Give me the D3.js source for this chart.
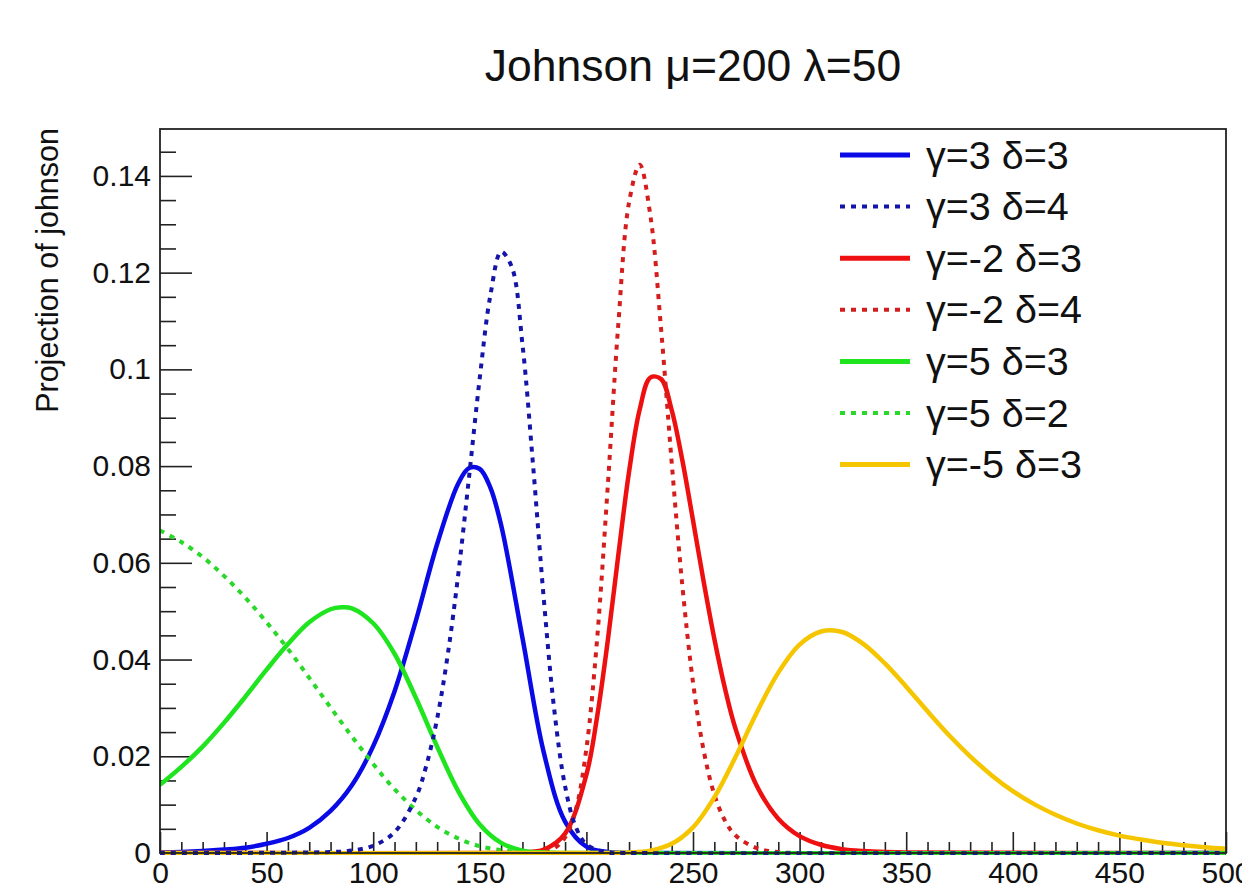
<!DOCTYPE html>
<html>
<head>
<meta charset="utf-8">
<script src="https://cdn.jsdelivr.net/npm/d3@7"></script>
<style>
  body { margin: 0; background: #fff; }
  svg { display: block; font-family: "Liberation Sans", Arial, Helvetica, sans-serif; }
  .axis path { display: none; }
  .axis line { stroke: #222; stroke-width: 1.6; }
  .axis text { fill: #111; font-size: 30px; font-family: "Liberation Sans", Arial, sans-serif; }
</style>
</head>
<body>
<div id="chart"></div>
<script>
// values (projection of each pdf, per bin)
const xTicks = [0, 50, 100, 150, 200, 250, 300, 350, 400, 450, 500];
const xTickLabels = ["0", "50", "100", "150", "200", "250", "300", "350", "400", "450", "500"];
const yTicks = [0, 0.02, 0.04, 0.06, 0.08, 0.1, 0.12, 0.14];
const yTickLabels = ["0", "0.02", "0.04", "0.06", "0.08", "0.1", "0.12", "0.14"];

const blueSolidX = [0, 10, 20, 30, 40, 50, 60, 70, 80, 90, 100, 110, 120, 130, 140, 145, 150, 155, 160, 170, 180, 190, 200, 210, 220, 500];
const blueSolidY = [0.0001, 0.0002, 0.0004, 0.0007, 0.0011, 0.0019, 0.0031, 0.0052, 0.0087, 0.0140, 0.0221, 0.0334, 0.0480, 0.0639, 0.0765, 0.0796, 0.0794, 0.0755, 0.0678, 0.0445, 0.0208, 0.0065, 0.0013, 0.0002, 0, 0];

const blueDotX = [0, 80, 90, 100, 110, 120, 125, 130, 135, 140, 145, 150, 155, 160, 165, 170, 175, 180, 185, 190, 195, 200, 210, 220, 500];
const blueDotY = [0, 0.0002, 0.0005, 0.0015, 0.0043, 0.0115, 0.0182, 0.0278, 0.0411, 0.0580, 0.0779, 0.0983, 0.1154, 0.1243, 0.1212, 0.1052, 0.0801, 0.0526, 0.0293, 0.0138, 0.0054, 0.0018, 0.0001, 0, 0];

const redSolidX = [0, 160, 170, 180, 190, 200, 205, 210, 215, 220, 225, 230, 235, 240, 245, 250, 255, 260, 265, 270, 280, 290, 300, 310, 320, 330, 340, 350, 500];
const redSolidY = [0, 0, 0.0001, 0.0007, 0.0040, 0.0162, 0.0281, 0.0438, 0.0617, 0.0788, 0.0917, 0.0983, 0.0980, 0.0916, 0.0812, 0.0688, 0.0561, 0.0443, 0.0340, 0.0256, 0.0138, 0.0071, 0.0035, 0.0017, 0.0008, 0.0004, 0.0002, 0.0001, 0];

const redDotX = [0, 170, 180, 185, 190, 195, 200, 205, 210, 215, 220, 225, 230, 235, 240, 245, 250, 255, 260, 265, 270, 280, 290, 300, 500];
const redDotY = [0, 0, 0.0003, 0.0010, 0.0032, 0.0089, 0.0216, 0.0441, 0.0757, 0.1095, 0.1345, 0.1423, 0.1318, 0.1085, 0.0808, 0.0553, 0.0353, 0.0212, 0.0121, 0.0067, 0.0036, 0.0010, 0.0002, 0, 0];

const greenSolidX = [0, 10, 20, 30, 40, 50, 60, 70, 80, 85, 90, 100, 110, 120, 130, 140, 150, 160, 170, 180, 190, 500];
const greenSolidY = [0.0141, 0.0178, 0.0220, 0.0269, 0.0323, 0.0379, 0.0432, 0.0477, 0.0504, 0.0508, 0.0506, 0.0475, 0.0412, 0.0321, 0.0220, 0.0127, 0.0059, 0.0021, 0.0005, 0.0001, 0, 0];

const greenDotX = [0, 10, 20, 30, 40, 50, 60, 70, 80, 90, 100, 110, 120, 130, 140, 150, 160, 170, 180, 190, 500];
const greenDotY = [0.0667, 0.0643, 0.0612, 0.0573, 0.0528, 0.0477, 0.0422, 0.0362, 0.0301, 0.0241, 0.0184, 0.0132, 0.0089, 0.0054, 0.0030, 0.0014, 0.0006, 0.0002, 0.0001, 0, 0];

const yellowX = [0, 210, 220, 230, 240, 250, 260, 270, 280, 290, 300, 310, 320, 330, 340, 350, 360, 370, 380, 390, 400, 410, 420, 430, 440, 450, 460, 470, 480, 490, 500];
const yellowY = [0, 0, 0.0001, 0.0005, 0.0019, 0.0053, 0.0115, 0.0199, 0.0291, 0.0373, 0.0431, 0.0458, 0.0457, 0.0432, 0.0392, 0.0344, 0.0293, 0.0244, 0.0200, 0.0161, 0.0128, 0.0101, 0.0079, 0.0061, 0.0047, 0.0036, 0.0028, 0.0021, 0.0016, 0.0012, 0.0009];

const seriesLabels = ["γ=3 δ=3", "γ=3 δ=4", "γ=-2 δ=3", "γ=-2 δ=4", "γ=5 δ=3", "γ=5 δ=2", "γ=-5 δ=3"];

// drawing setup (z = paint order; blue dots end up on top along the axis like in ROOT)
const series = [
  { label: seriesLabels[0], xs: blueSolidX, ys: blueSolidY, color: "#0a0ae6", dash: null, z: 0 },
  { label: seriesLabels[1], xs: blueDotX, ys: blueDotY, color: "#1414a8", dash: "5,6", z: 7 },
  { label: seriesLabels[2], xs: redSolidX, ys: redSolidY, color: "#ee1010", dash: null, z: 2 },
  { label: seriesLabels[3], xs: redDotX, ys: redDotY, color: "#d41e1e", dash: "5,6", z: 3 },
  { label: seriesLabels[4], xs: greenSolidX, ys: greenSolidY, color: "#1fe51f", dash: null, z: 4 },
  { label: seriesLabels[5], xs: greenDotX, ys: greenDotY, color: "#2ad82a", dash: "5,6", z: 5 },
  { label: seriesLabels[6], xs: yellowX, ys: yellowY, color: "#f5c600", dash: null, z: 6 }
];

const W = 1242, H = 891;
const frame = { left: 160, top: 129, right: 1226, bottom: 853 };

const svg = d3.select("#chart").append("svg")
  .attr("width", W)
  .attr("height", H);

svg.append("rect").attr("width", W).attr("height", H).attr("fill", "#fff");

const x = d3.scaleLinear().domain([0, 500]).range([frame.left, frame.right]);
const y = d3.scaleLinear().domain([0, 0.1497]).range([frame.bottom, frame.top]);

// minor ticks first
const xMinor = d3.range(0, 501, 10).filter(v => v % 50 !== 0);
svg.append("g")
  .attr("class", "axis")
  .attr("transform", `translate(0,${frame.bottom})`)
  .call(d3.axisBottom(x).tickValues(xMinor).tickSize(-11).tickFormat(""));

const yMinor = d3.range(0, 30).map(i => i * 0.005).filter((v, i) => i % 4 !== 0);
svg.append("g")
  .attr("class", "axis")
  .attr("transform", `translate(${frame.left},0)`)
  .call(d3.axisLeft(y).tickValues(yMinor).tickSize(-16).tickFormat(""));

// major ticks + labels
svg.append("g")
  .attr("class", "axis")
  .attr("transform", `translate(0,${frame.bottom})`)
  .call(d3.axisBottom(x).tickValues(xTicks).tickSize(-21).tickPadding(9)
    .tickFormat((d, i) => xTickLabels[i]));

svg.append("g")
  .attr("class", "axis")
  .attr("transform", `translate(${frame.left},0)`)
  .call(d3.axisLeft(y).tickValues(yTicks).tickSize(-32).tickPadding(9)
    .tickFormat((d, i) => yTickLabels[i]));

// curves
svg.append("clipPath").attr("id", "plotclip")
  .append("rect")
  .attr("x", frame.left).attr("y", frame.top - 2)
  .attr("width", frame.right - frame.left).attr("height", frame.bottom - frame.top + 4);

const line = d3.line()
  .x(d => x(d[0]))
  .y(d => y(Math.max(0, d[1])))
  .curve(d3.curveCatmullRom.alpha(0.5));

const plot = svg.append("g").attr("clip-path", "url(#plotclip)");
series.slice().sort((a, b) => a.z - b.z).forEach(s => {
  const pts = s.xs.map((xv, i) => [xv, s.ys[i]]);
  plot.append("path")
    .datum(pts)
    .attr("d", line)
    .attr("fill", "none")
    .attr("stroke", s.color)
    .attr("stroke-width", s.dash ? 4 : 4.5)
    .attr("stroke-dasharray", s.dash)
    .attr("stroke-linejoin", "round");
});

// frame
svg.append("rect")
  .attr("x", frame.left).attr("y", frame.top)
  .attr("width", frame.right - frame.left)
  .attr("height", frame.bottom - frame.top)
  .attr("fill", "none")
  .attr("stroke", "#222")
  .attr("stroke-width", 1.8);

// title
svg.append("text")
  .attr("x", 693)
  .attr("y", 81)
  .attr("text-anchor", "middle")
  .style("font-size", "44.5px")
  .style("fill", "#111")
  .text("Johnson μ=200 λ=50");

// y axis title
svg.append("text")
  .attr("transform", "translate(58,128) rotate(-90)")
  .attr("text-anchor", "end")
  .style("font-size", "30.5px")
  .style("fill", "#111")
  .text("Projection of johnson");

// legend
const legend = svg.append("g").attr("transform", "translate(840,155)");
series.forEach((s, i) => {
  const row = legend.append("g").attr("transform", `translate(0,${i * 51.6})`);
  row.append("line")
    .attr("x1", 0).attr("x2", 70)
    .attr("y1", 0).attr("y2", 0)
    .attr("stroke", s.color)
    .attr("stroke-width", s.dash ? 4 : 5)
    .attr("stroke-dasharray", s.dash);
  row.append("text")
    .attr("x", 86)
    .attr("y", 13.5)
    .style("font-size", "39.5px")
    .style("fill", "#111")
    .text(s.label);
});
</script>
</body>
</html>
